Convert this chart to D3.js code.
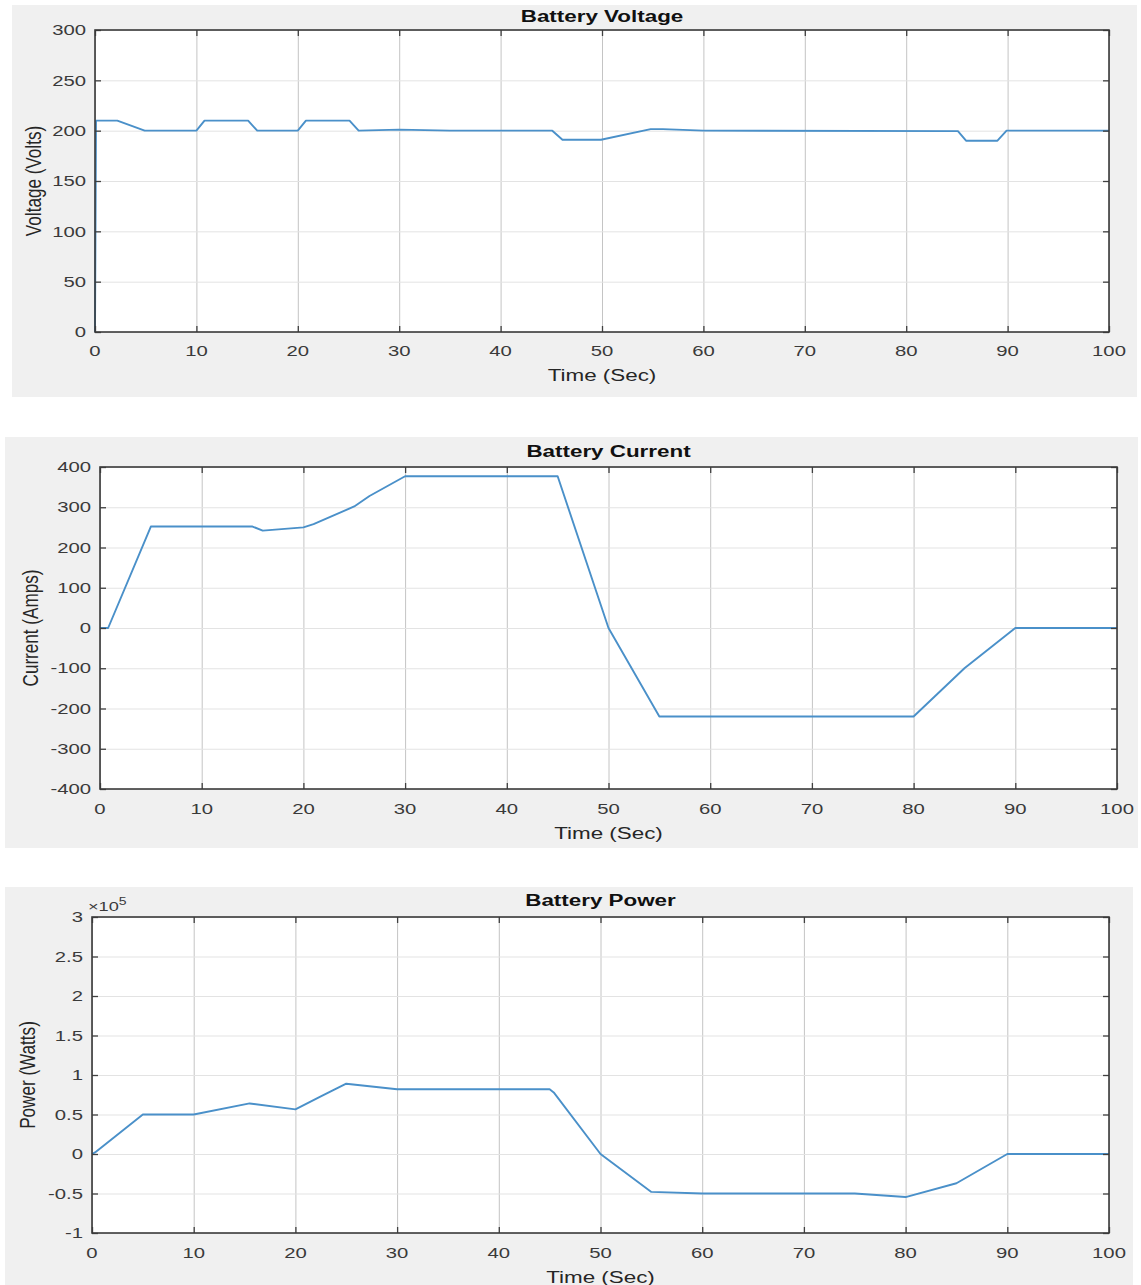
<!DOCTYPE html>
<html>
<head>
<meta charset="utf-8">
<script src="https://cdn.jsdelivr.net/npm/d3@7"></script>
<style>
  html, body { margin: 0; padding: 0; background: #ffffff; }
  svg { display: block; }
  text { font-family: "Liberation Sans", Arial, Helvetica, sans-serif; }
</style>
</head>
<body>
<svg id="chart" width="1141" height="1285"></svg>
<script>
// ---------- DATA ----------
const xTicks = [0, 10, 20, 30, 40, 50, 60, 70, 80, 90, 100];

const voltageTitle = "Battery Voltage";
const voltageYLabel = "Voltage (Volts)";
const voltageTicks = [0, 50, 100, 150, 200, 250, 300];
const voltageTime = [0, 0.1, 2.2, 4.9, 10, 10.8, 15.1, 16, 20, 20.8, 25.1, 26, 30, 35, 45.1, 46.1, 49.9, 54.8, 56, 60, 85.1, 85.9, 89, 89.9, 100];
const voltageValues = [0, 210, 210, 200, 200, 210, 210, 200, 200, 210, 210, 200, 201, 200, 200, 191, 191, 201.5, 201.5, 200, 199.5, 190, 190, 200, 200];

const currentTitle = "Battery Current";
const currentYLabel = "Current (Amps)";
const currentTicks = [-400, -300, -200, -100, 0, 100, 200, 300, 400];
const currentTime = [0, 0.8, 5, 15, 16, 20, 21, 25, 26.5, 30, 45, 50, 55, 80, 85, 90, 100];
const currentValues = [0, 0, 252, 252, 242, 250, 258, 302, 328, 377, 377, 0, -220, -220, -100, 0, 0];

const powerTitle = "Battery Power";
const powerYLabel = "Power (Watts)";
const powerTicks = [-100000, -50000, 0, 50000, 100000, 150000, 200000, 250000, 300000];
const powerTickLabels = ["-1", "-0.5", "0", "0.5", "1", "1.5", "2", "2.5", "3"];
const powerTime = [0, 0.3, 5, 10, 15.5, 20, 22.5, 25, 30, 45, 45.4, 50, 55, 60, 75, 80, 85, 90, 100];
const powerValues = [0, 2000, 50000, 50000, 64000, 56500, 73000, 89000, 82000, 82000, 78000, 0, -48000, -50000, -50000, -54500, -37000, 0, 0];

const xLabel = "Time (Sec)";

// ---------- DRAW ----------
const svg = d3.select("#chart");
const SX = 1.4; // horizontal glyph stretch seen in the reference

function panel(cfg) {
  const g = svg.append("g");
  g.append("rect")
    .attr("x", cfg.bg[0]).attr("y", cfg.bg[1])
    .attr("width", cfg.bg[2]).attr("height", cfg.bg[3])
    .attr("fill", "#f0f0f0");

  const p = cfg.plot;
  const x = d3.scaleLinear().domain([0, 100]).range([p.l, p.r]);
  const y = d3.scaleLinear().domain(cfg.yDomain).range([p.b, p.t]);

  g.append("rect")
    .attr("x", p.l).attr("y", p.t)
    .attr("width", p.r - p.l).attr("height", p.b - p.t)
    .attr("fill", "#ffffff");

  // grid
  g.append("g")
    .attr("transform", `translate(0,${p.b})`)
    .call(d3.axisBottom(x).tickValues(xTicks).tickSize(-(p.b - p.t)).tickFormat(""))
    .call(a => a.select(".domain").remove())
    .call(a => a.selectAll("line").attr("stroke", "#c4c4c4").attr("stroke-width", 1));
  g.append("g")
    .attr("transform", `translate(${p.l},0)`)
    .call(d3.axisLeft(y).tickValues(cfg.yTicks).tickSize(-(p.r - p.l)).tickFormat(""))
    .call(a => a.select(".domain").remove())
    .call(a => a.selectAll("line").attr("stroke", "#e3e3e3").attr("stroke-width", 1));

  // line
  const line = d3.line().x(d => x(d[0])).y(d => y(d[1]));
  g.append("path")
    .datum(cfg.t.map((t, i) => [t, cfg.v[i]]))
    .attr("d", line)
    .attr("fill", "none")
    .attr("stroke", "#4a90c9")
    .attr("stroke-width", 1.9)
    .attr("stroke-linejoin", "round");

  // inward ticks on all four sides
  const tickCol = "#404040";
  const styleAxis = a => {
    a.select(".domain").remove();
    a.selectAll("line").attr("stroke", tickCol).attr("stroke-width", 1.3);
  };
  g.append("g").attr("transform", `translate(0,${p.b})`)
    .call(d3.axisBottom(x).tickValues(xTicks).tickSize(-6).tickFormat("")).call(styleAxis);
  g.append("g").attr("transform", `translate(0,${p.t})`)
    .call(d3.axisTop(x).tickValues(xTicks).tickSize(-6).tickFormat("")).call(styleAxis);
  g.append("g").attr("transform", `translate(${p.l},0)`)
    .call(d3.axisLeft(y).tickValues(cfg.yTicks).tickSize(-6).tickFormat("")).call(styleAxis);
  g.append("g").attr("transform", `translate(${p.r},0)`)
    .call(d3.axisRight(y).tickValues(cfg.yTicks).tickSize(-6).tickFormat("")).call(styleAxis);

  // box
  g.append("rect")
    .attr("x", p.l).attr("y", p.t)
    .attr("width", p.r - p.l).attr("height", p.b - p.t)
    .attr("fill", "none").attr("stroke", "#3a3a3a").attr("stroke-width", 1.6);

  // x tick labels
  g.selectAll(".xl").data(xTicks).enter().append("text")
    .attr("transform", d => `translate(${x(d)},${cfg.tickY}) scale(${SX},1)`)
    .attr("text-anchor", "middle")
    .attr("font-size", 14.5).attr("fill", "#3a3a3a")
    .text(d => d);

  // y tick labels
  g.selectAll(".yl").data(cfg.yTicks).enter().append("text")
    .attr("transform", d => `translate(${p.l - 9},${y(d)}) scale(${SX},1)`)
    .attr("dy", "0.36em")
    .attr("text-anchor", "end")
    .attr("font-size", 14.5).attr("fill", "#3a3a3a")
    .text((d, i) => cfg.yLabels ? cfg.yLabels[i] : d);

  // title
  g.append("text")
    .attr("transform", `translate(${(p.l + p.r) / 2},${cfg.titleY}) scale(${SX},1)`)
    .attr("text-anchor", "middle")
    .attr("font-size", 16).attr("font-weight", "bold").attr("fill", "#111")
    .text(cfg.title);

  // x label
  g.append("text")
    .attr("transform", `translate(${(p.l + p.r) / 2},${cfg.xLabelY}) scale(${SX},1)`)
    .attr("text-anchor", "middle")
    .attr("font-size", 16).attr("fill", "#262626")
    .text(xLabel);

  // y label
  g.append("text")
    .attr("transform", `translate(${cfg.yLabelX},${(p.t + p.b) / 2}) rotate(-90) scale(1.07,1.35)`)
    .attr("text-anchor", "middle")
    .attr("dy", "0.35em")
    .attr("font-size", 16).attr("fill", "#262626")
    .text(cfg.yLabel);

  if (cfg.exponent) {
    const e = g.append("text")
      .attr("transform", `translate(${p.l - 4},${p.t - 6}) scale(${SX},1)`)
      .attr("font-size", 13).attr("fill", "#3a3a3a");
    e.append("tspan").text("\u00d710");
    e.append("tspan").attr("dy", -6).attr("font-size", 10).text(cfg.exponent);
  }
}

panel({
  bg: [12, 5, 1125, 392],
  plot: { l: 95, r: 1109, t: 30, b: 332 },
  yDomain: [0, 300], yTicks: voltageTicks,
  t: voltageTime, v: voltageValues,
  title: voltageTitle, yLabel: voltageYLabel,
  titleY: 22, tickY: 356, xLabelY: 381, yLabelX: 33
});

panel({
  bg: [5, 437, 1133, 411],
  plot: { l: 100, r: 1117, t: 467, b: 789 },
  yDomain: [-400, 400], yTicks: currentTicks,
  t: currentTime, v: currentValues,
  title: currentTitle, yLabel: currentYLabel,
  titleY: 457, tickY: 814, xLabelY: 839, yLabelX: 30
});

panel({
  bg: [5, 887, 1128, 398],
  plot: { l: 92, r: 1109, t: 917, b: 1233 },
  yDomain: [-100000, 300000], yTicks: powerTicks, yLabels: powerTickLabels,
  t: powerTime, v: powerValues,
  title: powerTitle, yLabel: powerYLabel,
  titleY: 906, tickY: 1258, xLabelY: 1283, yLabelX: 27,
  exponent: "5"
});
</script>
</body>
</html>
